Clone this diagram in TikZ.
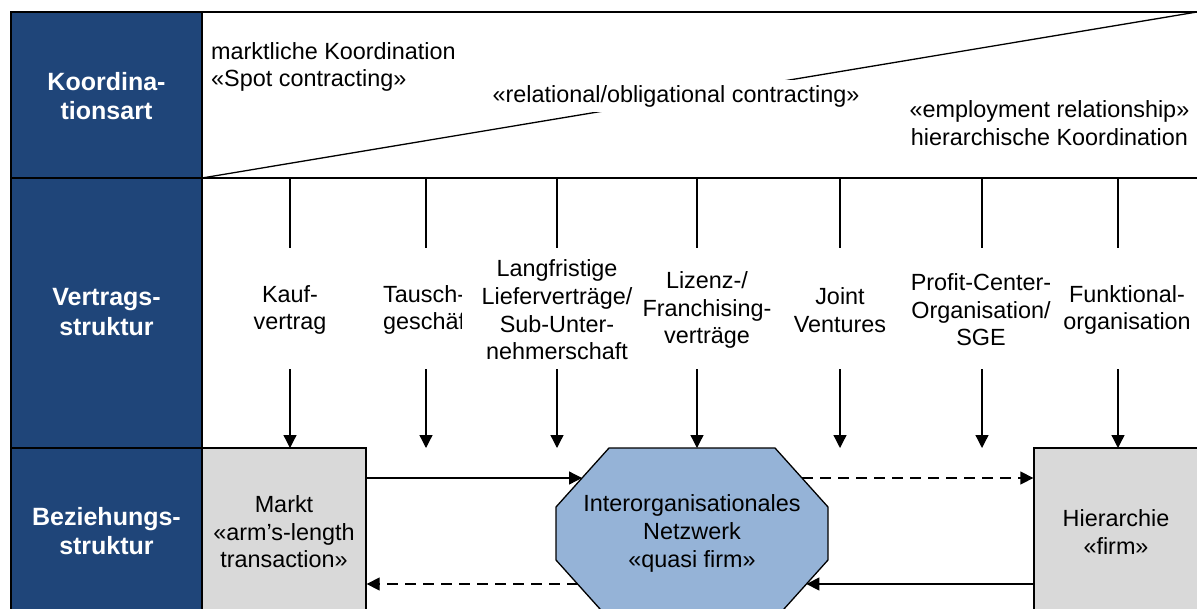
\documentclass[tikz,border=0pt]{standalone}
\usepackage{fontspec}
\setmainfont{Liberation Sans}
\usetikzlibrary{arrows.meta,calc}
\definecolor{headblue}{HTML}{1F4579}
\definecolor{boxgray}{HTML}{D9D9D9}
\definecolor{netblue}{HTML}{95B3D7}
\tikzset{
  txt/.style={font=\fontsize{23.4}{27.6}\selectfont, align=center, inner sep=0pt},
  head/.style={font=\fontsize{25}{29.5}\selectfont\bfseries, text=white, align=center, inner sep=0pt},
  rule/.style={line width=1.3pt},
  arr/.style={line width=1.3pt, -{Triangle[length=13pt,width=13pt]}},
  dasharr/.style={arr, dash pattern=on 11pt off 7pt},
  structbox/.style={txt, draw, line width=1.3pt, fill=boxgray, minimum width=164pt, minimum height=168pt}
}
\begin{document}
\begin{tikzpicture}[x=1pt,y=-1pt]
\useasboundingbox (0,0) rectangle (1197,608);
\clip (0,0) rectangle (1197,608);
\fill[white] (0,0) rectangle (1197,608);

% header column
\fill[headblue] (11,12) rectangle (202,620);
\draw[rule] (11,620) -- (11,12) -- (1200,12);
\draw[rule] (202,12) -- (202,620);
\draw[rule] (11,178) -- (1200,178);
\draw[rule] (11,448) -- (202,448);
\node[head] (hk) at (106.5,96) {Koordina-\\tionsart};
\node[head] (hv) at (106.5,312) {Vertrags-\\struktur};
\node[head] (hb) at (106.5,531) {Beziehungs-\\struktur};

% coordination row with the dividing diagonal
\coordinate (dl) at (202,178);
\coordinate (dr) at (1197,12);
\draw[rule] (dl) -- (dr);
\node[txt, anchor=west, align=left] (mk) at (211,67) {marktliche Koordination\\«Spot contracting»};
\node[txt, fill=white, inner xsep=3pt, inner ysep=5.5pt] (rc) at (676,96) {«relational/obligational contracting»};
\node[txt] (hc) at (1049.5,123) {«employment relationship»\\hierarchische Koordination};

% contract types
\node[txt] (c1) at (290,310) {Kauf-\\vertrag};
\begin{scope}
  \clip (370,250) rectangle (461.5,370);
  \node[txt, anchor=west, align=left] (c2) at (383,310) {Tausch-\\geschäft};
\end{scope}
\node[txt] (c3) at (557,310) {Langfristige\\Lieferverträge/\\Sub-Unter-\\nehmerschaft};
\node[txt] (c4) at (707,310) {Lizenz-/\\Franchising-\\verträge};
\node[txt] (c5) at (840,310) {Joint\\Ventures};
\node[txt] (c6) at (981,310) {Profit-Center-\\Organisation/\\SGE};
\node[txt] (c7) at (1127,310) {Funktional-\\organisation};

\foreach \i/\x in {1/290,2/426,3/557,4/697,5/840,6/982,7/1118}{
  \coordinate (top\i) at (\x,178);
  \coordinate (up\i) at (\x,248);
  \coordinate (lo\i) at (\x,369);
  \coordinate (end\i) at (\x,448);
  \draw[rule] (top\i) -- (up\i);
  \draw[arr] (lo\i) -- (end\i);
}

% relationship structures
\node[structbox] (markt) at (284,532) {Markt\\«arm’s-length\\transaction»};
\node[structbox] (hier) at (1116,532) {Hierarchie\\«firm»};

\coordinate (oc) at (692,533.5);
\draw[rule, fill=netblue]
  ($(oc)+(-83,-85.5)$) -- ($(oc)+(83,-85.5)$) -- ($(oc)+(136,-26.5)$) --
  ($(oc)+(136,26.5)$) -- ($(oc)+(83,85.5)$) -- ($(oc)+(-83,85.5)$) --
  ($(oc)+(-136,26.5)$) -- ($(oc)+(-136,-26.5)$) -- cycle;
\node[txt] (net) at (oc) {Interorganisationales\\Netzwerk\\«quasi firm»};

\coordinate (netL1) at ($(oc)+(-110,-55.5)$);
\coordinate (netR1) at ($(oc)+(110,-55.5)$);
\coordinate (netL2) at ($(oc)+(-114.4,50.5)$);
\coordinate (netR2) at ($(oc)+(114.4,50.5)$);

\draw[arr] (markt.east |- netL1) -- (netL1);
\draw[dasharr] (netR1) -- (hier.west |- netR1);
\draw[dasharr] (netL2) -- (markt.east |- netL2);
\draw[arr] (hier.west |- netR2) -- (netR2);
\end{tikzpicture}
\end{document}
